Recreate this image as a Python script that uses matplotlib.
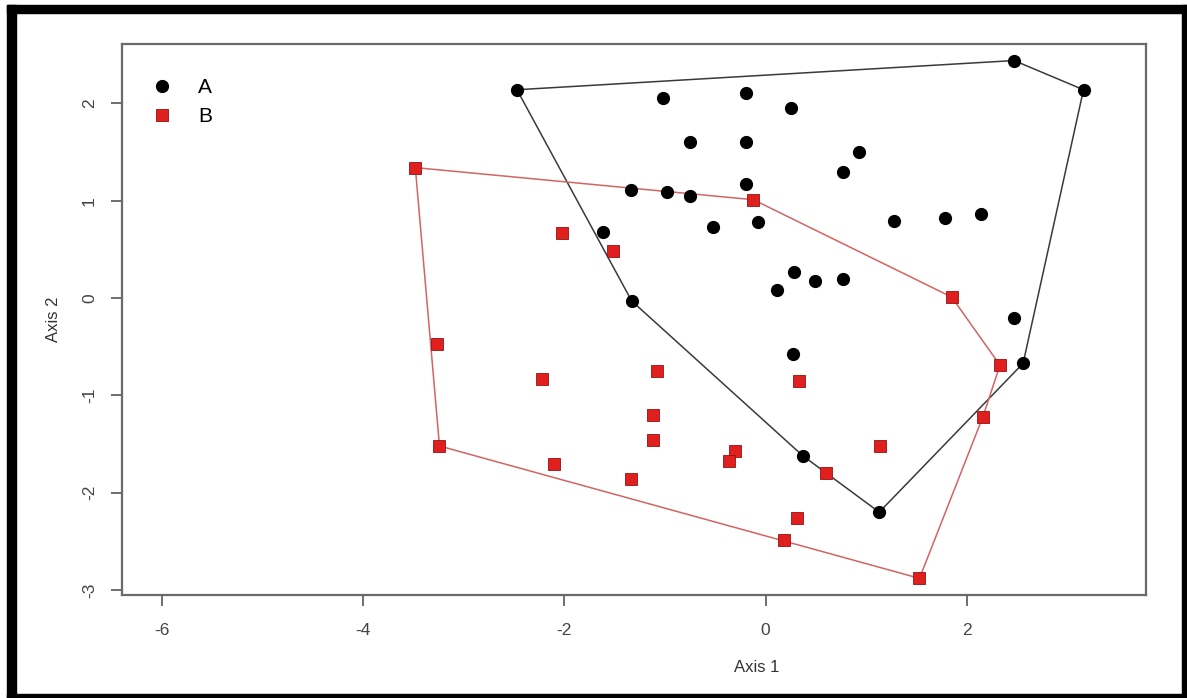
import numpy as np
import matplotlib.pyplot as plt
from matplotlib.patches import Rectangle

plt.rcParams['font.family'] = ['Liberation Sans', 'DejaVu Sans']

# group A (black circles)
a_x = [-2.47, 2.47, 3.16, -1.02, -0.19, 0.25, -0.75, -0.19, 0.93, 0.77,
       -1.34, -0.98, -0.75, -0.19, -0.52, -0.07, -1.62, 1.28, 1.78, 2.14,
       0.28, 0.11, 0.49, 0.77, -1.33, 2.47, 0.27, 2.56, 0.37, 1.13]
a_y = [2.14, 2.44, 2.14, 2.06, 2.11, 1.95, 1.60, 1.60, 1.50, 1.29,
       1.11, 1.09, 1.05, 1.17, 0.73, 0.78, 0.68, 0.79, 0.82, 0.86,
       0.27, 0.08, 0.18, 0.20, -0.03, -0.20, -0.57, -0.67, -1.62, -2.20]

# group B (red squares)
b_x = [-3.48, -0.12, -2.02, -1.52, 1.85, -3.26, -2.22, -1.08, -1.12, -1.12,
       -3.24, -0.30, -0.36, -2.10, -1.34, 0.18, 0.31, 0.33, 2.33, 2.16,
       1.14, 0.60, 1.53]
b_y = [1.34, 1.01, 0.67, 0.48, 0.01, -0.47, -0.83, -0.75, -1.20, -1.46,
       -1.52, -1.57, -1.67, -1.71, -1.86, -2.49, -2.26, -0.85, -0.69, -1.22,
       -1.52, -1.80, -2.88]

x_ticks = [-6, -4, -2, 0, 2]
y_ticks = [-3, -2, -1, 0, 1, 2]


def hull(xs, ys):
    pts = sorted(set(zip(xs, ys)))

    def cross(o, a, b):
        return (a[0] - o[0]) * (b[1] - o[1]) - (a[1] - o[1]) * (b[0] - o[0])

    lower, upper = [], []
    for p in pts:
        while len(lower) >= 2 and cross(lower[-2], lower[-1], p) <= 0:
            lower.pop()
        lower.append(p)
    for p in reversed(pts):
        while len(upper) >= 2 and cross(upper[-2], upper[-1], p) <= 0:
            upper.pop()
        upper.append(p)
    h = lower[:-1] + upper[:-1]
    h.append(h[0])
    return np.array(h)


W, H = 1187, 698
fig = plt.figure(figsize=(W / 100, H / 100), dpi=100)
ax = fig.add_axes([122 / W, (H - 595) / H, (1146 - 122) / W, (595 - 44) / H])

ha = hull(a_x, a_y)
hb = hull(b_x, b_y)
ax.plot(ha[:, 0], ha[:, 1], color='#3a3a3a', lw=1.1, zorder=2)
ax.plot(hb[:, 0], hb[:, 1], color='#d26464', lw=1.1, zorder=2)

ax.plot(a_x, a_y, 'o', color='black', ms=8.5, zorder=3, label='A')
ax.plot(b_x, b_y, 's', color='#e0201e', mec='#9a1010', mew=0.6, ms=8, zorder=3,
        label='B')

ax.set_xlim(-6.395, 3.781)
ax.set_ylim(-3.051, 2.610)
ax.set_xticks(x_ticks)
ax.set_yticks(y_ticks)
ax.set_xticklabels([str(t) for t in x_ticks])
ax.set_yticklabels([str(t) for t in y_ticks], rotation=90, va='center')
ax.tick_params(axis='both', direction='out', length=8, width=1.2,
               colors='#555555', labelsize=12.5, labelcolor='#444444')
ax.tick_params(axis='x', pad=12)
ax.tick_params(axis='y', pad=10)
for s in ax.spines.values():
    s.set_color('#6a6a6a')
    s.set_linewidth(1.6)

ax.set_xlabel('Axis 1', fontsize=12, color='#333333')
ax.xaxis.set_label_coords((757 - 122) / 1024, -(660 - 595) / 551)
ax.set_ylabel('Axis 2', fontsize=12, color='#333333')
ax.yaxis.set_label_coords(-(122 - 61) / 1024, 0.5)

leg = ax.legend(loc='upper left', bbox_to_anchor=(0.015, 0.965), frameon=False,
                fontsize=15, handlelength=1.0, handletextpad=1.2,
                labelspacing=0.5, borderaxespad=0.3)

# thick black frame around the figure
for (x0, y0, w, h) in [(7, 5, 9, 693), (7, 5, 1180, 8), (1182, 5, 5, 693),
                       (7, 694, 1180, 4)]:
    fig.patches.append(Rectangle((x0 / W, 1 - (y0 + h) / H), w / W, h / H,
                                 transform=fig.transFigure, color='black'))

fig.savefig('out.png', dpi=100)
